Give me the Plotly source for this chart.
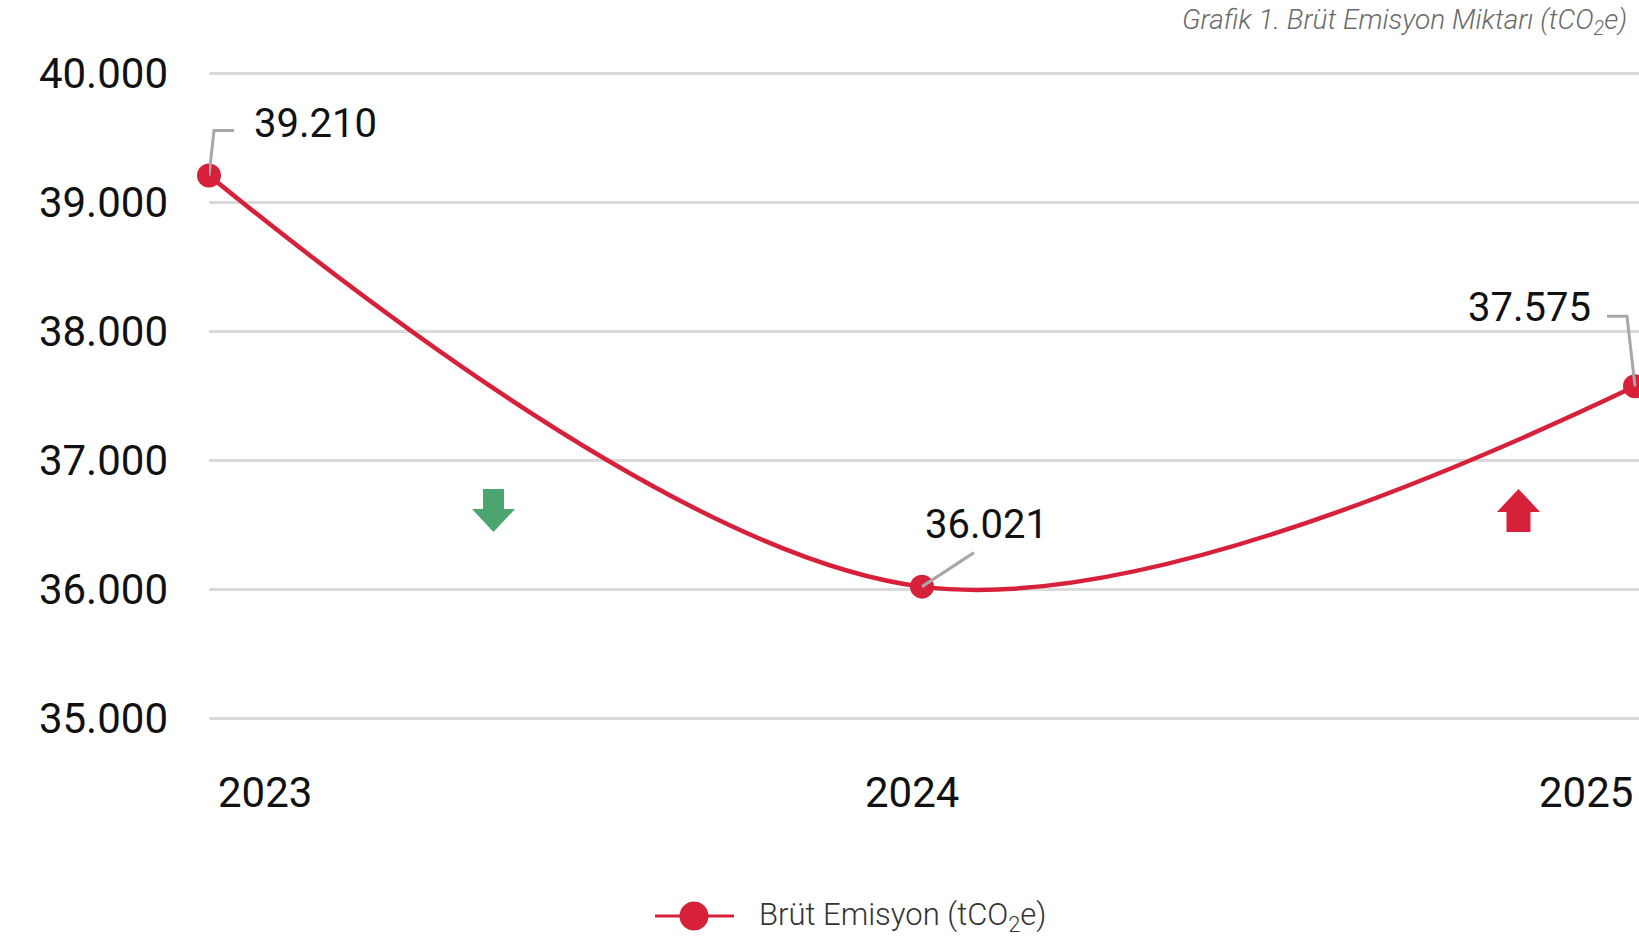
import plotly.graph_objects as go

# ---- data ----
years = ["2023", "2024", "2025"]
emissions = [39210, 36021, 37575]
value_labels = ["39.210", "36.021", "37.575"]
y_ticks = [35000, 36000, 37000, 38000, 39000, 40000]
y_tick_labels = ["35.000", "36.000", "37.000", "38.000", "39.000", "40.000"]
series_name = "Brüt Emisyon (tCO<sub>2</sub>e)"
chart_title = "Grafik 1. Brüt Emisyon Miktarı (tCO<sub>2</sub>e)"

RED = "#D7203A"
GREEN = "#4CA46F"
GRID = "#DADADA"
LEAD = "#A8A8A8"
FONT = "Roboto"

W, H = 1639, 936
ML, MR, MT, MB = 209, 0, 48, 192
PW = W - ML - MR

xi = list(range(len(years)))

fig = go.Figure()
fig.add_trace(go.Scatter(
    x=xi, y=emissions, mode="lines+markers",
    line=dict(color=RED, width=4.5, shape="spline", smoothing=1.0),
    marker=dict(color=RED, size=24),
    cliponaxis=False, showlegend=False, name=series_name, hoverinfo="skip",
))

shapes = []
annotations = []

# value labels with leader lines
label_cfg = [
    dict(xanchor="left", xshift=43, yshift=52, path="M0,0 L5,45 L25,45"),
    dict(xanchor="left", xshift=1, yshift=62, path="M0,0 L52,34"),
    dict(xanchor="right", xshift=-42, yshift=79, path="M0,0 L-8,70 L-28,70"),
]
for i, (v, t, c) in enumerate(zip(emissions, value_labels, label_cfg)):
    annotations.append(dict(x=i, y=v, xref="x", yref="y", text=t, showarrow=False,
                            xanchor=c["xanchor"], yanchor="middle",
                            xshift=c["xshift"], yshift=c["yshift"],
                            font=dict(family=FONT, size=40, color="#111111")))
    shapes.append(dict(type="path", xref="x", yref="y", xsizemode="pixel", ysizemode="pixel",
                       xanchor=i, yanchor=v, path=c["path"],
                       line=dict(color=LEAD, width=3), layer="above"))

# x category labels
x_cfg = [("left", 7), ("center", -10), ("right", 0)]
for i, (lab, (anc, sh)) in enumerate(zip(years, x_cfg)):
    annotations.append(dict(x=i, y=0, xref="x", yref="paper", text=lab, showarrow=False,
                            xanchor=anc, yanchor="middle", xshift=sh, yshift=-48,
                            font=dict(family=FONT, size=42, color="#111111")))

# trend arrows
down_path = "M-10.5,21.5 L10.5,21.5 L10.5,1.5 L21.5,1.5 L0,-21.5 L-21.5,1.5 L-10.5,1.5 Z"
up_path = "M0,21.5 L21.5,-1.5 L12,-1.5 L12,-21.5 L-12,-21.5 L-12,-1.5 L-21.5,-1.5 Z"
shapes.append(dict(type="path", xref="x", yref="y", xsizemode="pixel", ysizemode="pixel",
                   xanchor=0.399, yanchor=36612, path=down_path,
                   fillcolor=GREEN, line=dict(width=0)))
shapes.append(dict(type="path", xref="x", yref="y", xsizemode="pixel", ysizemode="pixel",
                   xanchor=1.8366, yanchor=36612, path=up_path,
                   fillcolor=RED, line=dict(width=0)))

# manual legend
lx = (694 - ML) / PW
shapes.append(dict(type="line", xref="paper", yref="paper", xsizemode="pixel", ysizemode="pixel",
                   xanchor=lx, yanchor=0, x0=-39, x1=40, y0=-172, y1=-172,
                   line=dict(color=RED, width=3)))
shapes.append(dict(type="circle", xref="paper", yref="paper", xsizemode="pixel", ysizemode="pixel",
                   xanchor=lx, yanchor=0, x0=-14.5, x1=14.5, y0=-186.5, y1=-157.5,
                   fillcolor=RED, line=dict(width=0)))
annotations.append(dict(x=lx, y=0, xref="paper", yref="paper", text=series_name, showarrow=False,
                        xanchor="left", yanchor="middle", xshift=63, yshift=-172,
                        font=dict(family=FONT, size=31, color="#333333", weight=300)))

# title
annotations.append(dict(x=1, y=1, xref="paper", yref="paper", text="<i>" + chart_title + "</i>",
                        showarrow=False, xanchor="right", yanchor="middle", xshift=-10, yshift=27,
                        font=dict(family=FONT, size=28, color="#6A6A6A", weight=300)))

fig.update_layout(
    width=W, height=H,
    margin=dict(l=ML, r=MR, t=MT, b=MB),
    plot_bgcolor="white", paper_bgcolor="white",
    separators=",.",
    hovermode=False,
    xaxis=dict(range=[0, 2 * PW / (PW - 4)], showgrid=False, zeroline=False,
               showticklabels=False, showline=False, fixedrange=True),
    yaxis=dict(range=[34800, 40200], tickvals=y_ticks, ticktext=y_tick_labels,
               showgrid=True, gridcolor=GRID, gridwidth=2.5, zeroline=False,
               showline=False, ticks="", ticklabelstandoff=40, fixedrange=True,
               tickfont=dict(family=FONT, size=42, color="#111111")),
    shapes=shapes, annotations=annotations,
    showlegend=False,
)

fig.write_html("out.html", config={"displayModeBar": False},
               post_script="document.body.style.margin='0';document.body.style.overflow='hidden';")
